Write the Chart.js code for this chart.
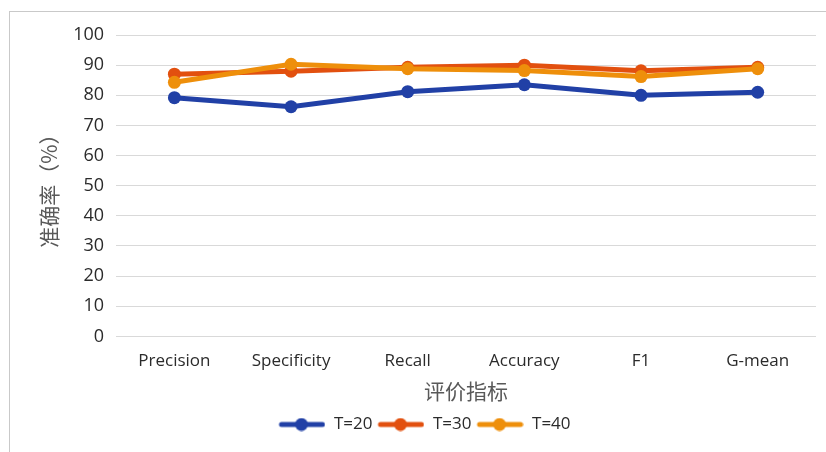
<!DOCTYPE html>
<html>
<head>
<meta charset="utf-8">
<script src="https://cdn.jsdelivr.net/npm/chart.js@4"></script>
<style>
    body { margin: 0; background: #fff; }
    #wrap { position: relative; width: 826px; height: 452px; }
    #frame { position: absolute; left: 9px; top: 11px; width: 840px; height: 470px; border: 1px solid #c9c9c9; pointer-events: none; }
</style>
</head>
<body>
<div id="wrap">
    <canvas id="chart" width="826" height="452"></canvas>
    <div id="frame"></div>
</div>
<script>
// Evaluation metrics (x categories)
const categories = ['Precision', 'Specificity', 'Recall', 'Accuracy', 'F1', 'G-mean'];
const seriesNames = ['T=20', 'T=30', 'T=40'];

// accuracy values (%)
const t20 = [79.2, 76.2, 81.2, 83.5, 80.0, 81.0];
const t30 = [87.0, 88.0, 89.3, 90.0, 88.1, 89.3];
const t40 = [84.3, 90.3, 88.8, 88.2, 86.2, 88.8];

const yTicks = [0, 10, 20, 30, 40, 50, 60, 70, 80, 90, 100];

const colors = ['#2140a6', '#e2500f', '#ee8f0b'];
const latin = "'Open Sans', sans-serif";
const cjk = "'Noto Sans CJK SC', sans-serif";
const textColor = '#2b2b2b';

// legend marker: a short thick line with a dot
function makeMarker(color) {
    const c = document.createElement('canvas');
    c.width = 48;
    c.height = 14;
    const g = c.getContext('2d');
    g.strokeStyle = color;
    g.lineWidth = 5;
    g.lineCap = 'round';
    g.beginPath();
    g.moveTo(4, 7);
    g.lineTo(45, 7);
    g.stroke();
    g.fillStyle = color;
    g.beginPath();
    g.arc(24, 7, 6.5, 0, Math.PI * 2);
    g.fill();
    return c;
}

const allSeries = [t20, t30, t40];
const datasets = allSeries.map((vals, i) => ({
    label: seriesNames[i],
    data: vals,
    borderColor: colors[i],
    backgroundColor: colors[i],
    borderWidth: 5,
    pointRadius: 6.5,
    pointHoverRadius: 6.5,
    pointBorderWidth: 0,
    tension: 0,
    order: 2 - i
}));

new Chart(document.getElementById('chart'), {
    type: 'line',
    data: { labels: categories, datasets: datasets },
    options: {
        responsive: false,
        animation: false,
        layout: { padding: { left: 32, right: 10, top: 35, bottom: 9 } },
        scales: {
            x: {
                offset: true,
                grid: { display: false },
                border: { display: false },
                ticks: { color: textColor, font: { family: latin, size: 17 }, padding: 7 },
                title: { display: true, text: '评价指标', color: '#595959', font: { family: cjk, size: 21 }, padding: { top: 0, bottom: 8 } }
            },
            y: {
                min: 0,
                max: 100,
                afterBuildTicks: (scale) => { scale.ticks = yTicks.map(v => ({ value: v })); },
                grid: { color: '#d9d9d9', lineWidth: 1, drawTicks: false },
                border: { display: false },
                ticks: { color: textColor, font: { family: latin, size: 18 }, padding: 12 },
                title: { display: true, text: '准确率（%）', color: '#595959', font: { family: cjk, size: 21 }, padding: { bottom: 0 } }
            }
        },
        plugins: {
            tooltip: { enabled: false },
            legend: {
                position: 'bottom',
                labels: {
                    usePointStyle: true,
                    pointStyleWidth: 48,
                    padding: 4,
                    color: textColor,
                    font: { family: latin, size: 17 },
                    generateLabels: (chart) => chart.data.datasets.map((ds, i) => ({
                        text: ds.label,
                        fontColor: textColor,
                        pointStyle: makeMarker(ds.borderColor),
                        lineWidth: 0,
                        strokeStyle: 'transparent',
                        fillStyle: ds.borderColor,
                        hidden: false,
                        datasetIndex: i
                    }))
                }
            }
        }
    }
});
</script>
</body>
</html>
